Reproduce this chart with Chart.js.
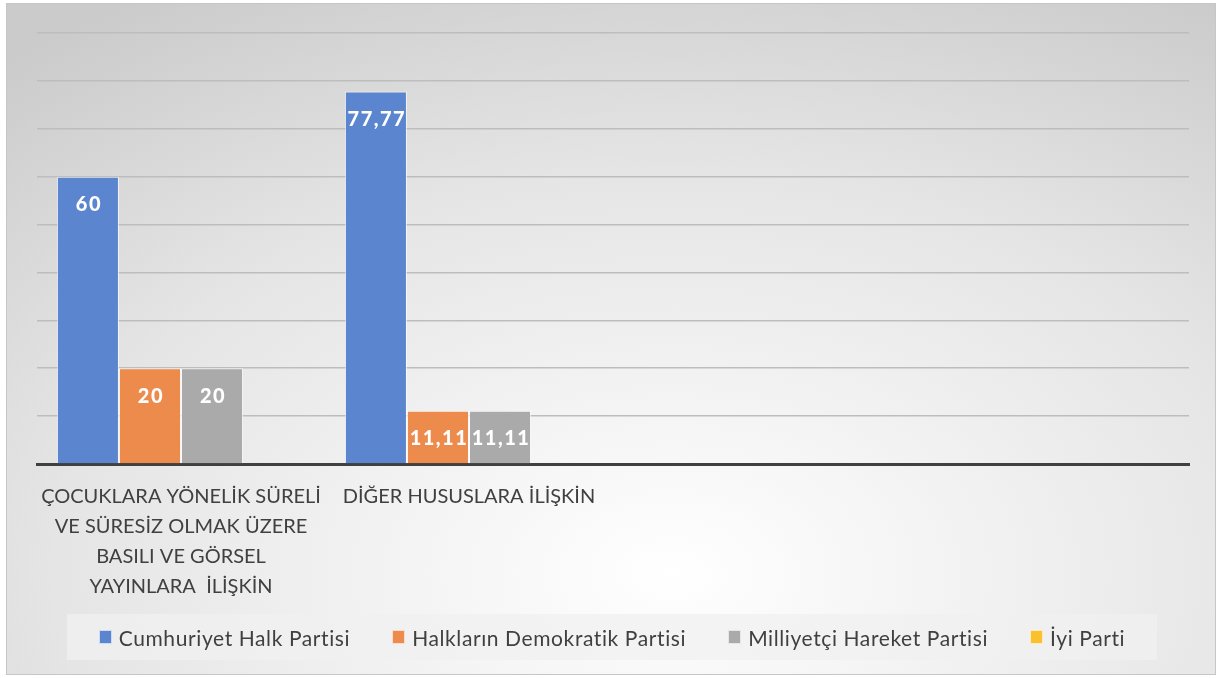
<!DOCTYPE html>
<html lang="tr">
<head>
<meta charset="utf-8">
<title>Partilere göre dağılım</title>
<script src="https://cdn.jsdelivr.net/npm/chart.js@4.4.1/dist/chart.umd.min.js"></script>
<style>
  html, body { margin: 0; padding: 0; background: #fff; }
  #wrap { position: absolute; left: 0; top: 0; width: 1217px; height: 678px; }
  #frame {
    position: absolute; left: 6px; top: 3px; width: 1208px; height: 670px;
    border: 1px solid #c6c6c6;
    background: radial-gradient(ellipse 85% 100% at 55% 85%, #ffffff 0%, #f4f4f4 25%, #e5e5e5 60%, #cbcbcb 100%);
  }
  #box { position: absolute; left: 0; top: 0; width: 1217px; height: 678px; }
  #legend {
    position: absolute; left: 67px; top: 614px; width: 1090px; height: 46px;
    background: rgba(240,240,240,0.75);
    display: flex; align-items: center; justify-content: center; gap: 42px;
    font-family: Lato, "Open Sans", sans-serif; font-size: 21px; letter-spacing: 0.6px; color: #404040;
  }
  #legend .item { display: flex; align-items: center; white-space: nowrap; }
  #legend .sw { width: 11px; height: 12px; margin-right: 7px; border: 1px solid rgba(255,255,255,0.7); }
</style>
</head>
<body>
<div id="wrap">
  <div id="frame"></div>
  <div id="box"><canvas id="chart"></canvas></div>
  <div id="legend"></div>
</div>
<script>
const categories = [
  ["ÇOCUKLARA YÖNELİK SÜRELİ", "VE SÜRESİZ OLMAK ÜZERE", "BASILI VE GÖRSEL", "YAYINLARA  İLİŞKİN"],
  "DİĞER HUSUSLARA İLİŞKİN",
  "",
  ""
];
const seriesNames = ["Cumhuriyet Halk Partisi", "Halkların Demokratik Partisi", "Milliyetçi Hareket Partisi", "İyi Parti"];
const chpValues = [60, 77.77, null, null];
const hdpValues = [20, 11.11, null, null];
const mhpValues = [20, 11.11, null, null];
const iyiValues = [0, 0, null, null];
const seriesColors = ["#5b85ce", "#ec8b4c", "#aaaaaa", "#fbc02d"];

const font = "Lato, 'Open Sans', sans-serif";

// white labels inside the top of each bar
const barLabels = {
  id: "barLabels",
  afterDatasetsDraw(chart) {
    const ctx = chart.ctx;
    ctx.save();
    ctx.fillStyle = "#ffffff";
    ctx.font = "900 20px " + font;
    ctx.letterSpacing = "1.5px";
    ctx.textAlign = "center";
    ctx.textBaseline = "middle";
    chart.data.datasets.forEach((ds, i) => {
      chart.getDatasetMeta(i).data.forEach((bar, j) => {
        const v = ds.data[j];
        if (!v) return;
        ctx.fillText(String(v).replace(".", ","), bar.x + 1, bar.y + 28);
      });
    });
    ctx.restore();
  }
};

const datasets = [chpValues, hdpValues, mhpValues, iyiValues].map((vals, i) => ({
  label: seriesNames[i],
  data: vals,
  backgroundColor: seriesColors[i],
  borderColor: "rgba(255,255,255,0.7)",
  borderWidth: 1,
  categoryPercentage: 0.862,
  barPercentage: 1
}));

// legend drawn as html under the chart
const legendDiv = document.getElementById("legend");
seriesNames.forEach((name, i) => {
  const item = document.createElement("div");
  item.className = "item";
  item.innerHTML = `<span class="sw" style="background:${seriesColors[i]}"></span>${name}`;
  legendDiv.appendChild(item);
});

new Chart(document.getElementById("chart"), {
  type: "bar",
  data: { labels: categories, datasets: datasets },
  plugins: [barLabels],
  options: {
    responsive: true,
    maintainAspectRatio: false,
    animation: false,
    layout: { padding: { left: 37, right: 28, top: 33, bottom: 66 } },
    plugins: {
      tooltip: { enabled: false },
      legend: { display: false }
    },
    scales: {
      x: {
        grid: { display: false },
        border: { color: "#404040", width: 3 },
        ticks: {
          autoSkip: false,
          maxRotation: 0,
          color: "#404040",
          padding: 10,
          font: { family: font, size: 20, lineHeight: 1.5 }
        }
      },
      y: {
        min: 0,
        max: 90,
        ticks: { display: false, stepSize: 10 },
        border: { display: false },
        grid: { color: "#bdbdbd", lineWidth: 1.5, drawTicks: false }
      }
    }
  }
});
</script>
</body>
</html>
